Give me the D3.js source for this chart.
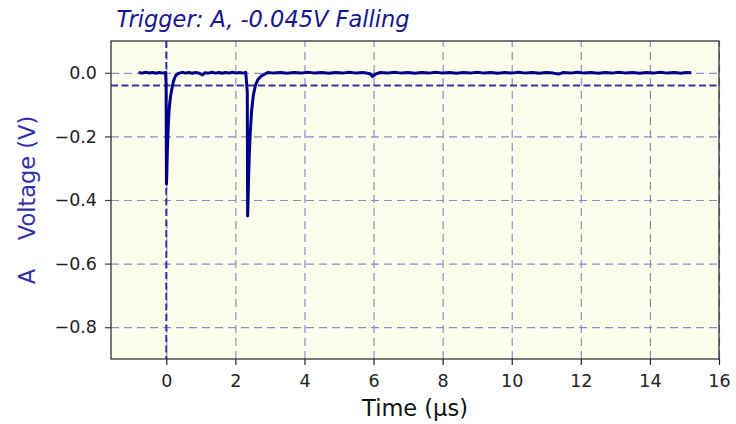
<!DOCTYPE html>
<html>
<head>
<meta charset="utf-8">
<script src="https://cdn.jsdelivr.net/npm/d3@7"></script>
<style>
  body { margin: 0; background: #fff; }
  text { font-family: 'DejaVu Sans', sans-serif; }
  .tick-label { font-size: 17.5px; fill: #222; }
</style>
</head>
<body>
<svg id="svg-scope" width="736" height="424"></svg>
<script>
//////////////////////////////////////////////////////////////////////////////////////////
// Data (time in us, voltage in V)
//////////////////////////////////////////////////////////////////////////////////////////
var pre_trigger = [
  [-0.80, 0.001], [-0.70, -0.001], [-0.60, 0.0015], [-0.50, -0.0005], [-0.40, 0.001],
  [-0.30, -0.0015], [-0.20, 0.001], [-0.10, -0.001], [-0.02, 0.001]
]
var first_pulse = [
  [-0.005, -0.04], [0.005, -0.35], [0.015, -0.32], [0.03, -0.25], [0.05, -0.19],
  [0.075, -0.13], [0.10, -0.095], [0.13, -0.07], [0.165, -0.05], [0.20, -0.03],
  [0.25, -0.014], [0.30, -0.005], [0.38, -0.001]
]
var between_pulses = [
  [0.46, 0.0015], [0.55, -0.001], [0.65, 0.001], [0.75, -0.0015], [0.85, 0.001],
  [0.95, -0.001], [1.05, -0.007], [1.12, 0.0005], [1.22, -0.001], [1.32, 0.0015],
  [1.42, -0.001], [1.52, 0.001], [1.62, -0.0015], [1.72, 0.001], [1.82, -0.001],
  [1.92, 0.0015], [2.02, -0.001], [2.12, 0.001], [2.22, -0.001], [2.30, 0.0015]
]
var second_pulse = [
  [2.345, -0.06], [2.355, -0.45], [2.365, -0.42], [2.38, -0.34], [2.40, -0.27],
  [2.43, -0.19], [2.47, -0.12], [2.52, -0.07], [2.58, -0.04], [2.65, -0.022],
  [2.75, -0.01], [2.85, -0.004], [2.95, 0.001]
]
var after_pulses = [
  [3.1, -0.001], [3.3, 0.001], [3.5, -0.0015], [3.7, 0.001], [3.9, -0.001], [4.1, 0.0015],
  [4.3, -0.001], [4.5, 0.001], [4.7, -0.0015], [4.9, 0.001], [5.1, -0.001], [5.3, 0.0015],
  [5.5, -0.001], [5.7, 0.001], [5.9, -0.003], [5.97, -0.012], [6.05, -0.004], [6.2, 0.001],
  [6.4, -0.001], [6.6, 0.0015], [6.8, -0.001], [7.0, 0.001], [7.2, -0.0015], [7.4, 0.001],
  [7.6, -0.001], [7.8, 0.0015], [8.0, -0.001], [8.2, 0.001], [8.4, -0.0015], [8.6, 0.001],
  [8.8, -0.001], [9.0, 0.0015], [9.2, -0.001], [9.4, 0.001], [9.6, -0.0015], [9.8, 0.001],
  [10.0, -0.001], [10.2, 0.0015], [10.4, -0.001], [10.6, 0.001], [10.8, -0.0015], [11.0, 0.001],
  [11.2, -0.001], [11.35, -0.004], [11.5, 0.001], [11.7, -0.001], [11.9, 0.0015], [12.1, -0.001],
  [12.3, 0.001], [12.5, -0.0015], [12.7, 0.001], [12.9, -0.001], [13.1, 0.0015], [13.3, -0.001],
  [13.5, 0.001], [13.7, -0.0015], [13.9, 0.001], [14.1, -0.001], [14.3, 0.0015], [14.5, -0.001],
  [14.7, 0.001], [14.9, -0.0015], [15.05, 0.001], [15.2, 0.0005]
]

var x_ticks = [0, 2, 4, 6, 8, 10, 12, 14, 16]
var y_ticks = [-0.8, -0.6, -0.4, -0.2, 0.0]
var x_domain = [-1.6, 16]
var y_domain = [-0.9, 0.1]
var trigger_time = 0
var trigger_level = -0.04

var title_text = 'Trigger: A, -0.045V Falling'
var x_label_text = 'Time (\u03bcs)'
var y_label_text = 'A    Voltage (V)'

//////////////////////////////////////////////////////////////////////////////////////////
// Layout
//////////////////////////////////////////////////////////////////////////////////////////
var plot = { 'left': 111, 'right': 719, 'top': 41, 'bottom': 359 }

var x = d3.scaleLinear().domain(x_domain).range([plot['left'], plot['right']])
var y = d3.scaleLinear().domain(y_domain).range([plot['bottom'], plot['top']])

var svg = d3.select('#svg-scope')

draw_background()
draw_grid()
draw_trigger_lines()
draw_trace()
draw_frame()
draw_axes()
draw_texts()

//////////////////////////////////////////////////////////////////////////////////////////
// Functions
//////////////////////////////////////////////////////////////////////////////////////////
function draw_background() {
  svg.append('rect')
    .attr('x', plot['left'])
    .attr('y', plot['top'])
    .attr('width', plot['right'] - plot['left'])
    .attr('height', plot['bottom'] - plot['top'])
    .attr('fill', '#fdfdec')
}

function draw_grid() {
  var g = svg.append('g').attr('id', 'g-grid')

  g.append('g')
    .attr('transform', 'translate(0,' + plot['bottom'] + ')')
    .call(d3.axisBottom(x).tickValues(x_ticks).tickSize(plot['top'] - plot['bottom']).tickFormat(''))

  g.append('g')
    .attr('transform', 'translate(' + plot['left'] + ',0)')
    .call(d3.axisLeft(y).tickValues(y_ticks).tickSize(plot['left'] - plot['right']).tickFormat(''))

  g.selectAll('.domain').remove()
  g.selectAll('line')
    .attr('stroke', '#8c8cd2')
    .attr('stroke-width', 1.2)
    .attr('stroke-dasharray', '8,5')
}

function draw_trigger_lines() {
  svg.append('line')
    .attr('x1', x(trigger_time))
    .attr('x2', x(trigger_time))
    .attr('y1', plot['top'])
    .attr('y2', plot['bottom'])
    .attr('stroke', '#3434a6')
    .attr('stroke-width', 2)
    .attr('stroke-dasharray', '7,3.5')

  svg.append('line')
    .attr('x1', plot['left'])
    .attr('x2', plot['right'])
    .attr('y1', y(trigger_level))
    .attr('y2', y(trigger_level))
    .attr('stroke', '#3434a6')
    .attr('stroke-width', 2)
    .attr('stroke-dasharray', '7,3.5')
}

function draw_trace() {
  var points = [].concat(pre_trigger, first_pulse, between_pulses, second_pulse, after_pulses)

  var line = d3.line()
    .x(function(d) { return x(d[0]) })
    .y(function(d) { return y(d[1]) })

  svg.append('path')
    .datum(points)
    .attr('d', line)
    .attr('fill', 'none')
    .attr('stroke', '#00008b')
    .attr('stroke-width', 3)
    .attr('stroke-linejoin', 'round')
}

function draw_frame() {
  svg.append('rect')
    .attr('x', plot['left'])
    .attr('y', plot['top'])
    .attr('width', plot['right'] - plot['left'])
    .attr('height', plot['bottom'] - plot['top'])
    .attr('fill', 'none')
    .attr('stroke', '#222')
    .attr('stroke-width', 1.2)
}

function draw_axes() {
  var g_x = svg.append('g')
    .attr('transform', 'translate(0,' + plot['bottom'] + ')')
    .call(d3.axisBottom(x).tickValues(x_ticks).tickSize(6).tickSizeOuter(0).tickPadding(10)
      .tickFormat(d3.format('d')))
  g_x.select('.domain').remove()
  g_x.selectAll('line').attr('stroke', '#222').attr('stroke-width', 1.2)
  g_x.selectAll('text').attr('class', 'tick-label').attr('font-family', null).attr('font-size', null)

  var g_y = svg.append('g')
    .attr('transform', 'translate(' + plot['left'] + ',0)')
    .call(d3.axisLeft(y).tickValues(y_ticks).tickSize(6).tickSizeOuter(0).tickPadding(8)
      .tickFormat(d3.format('.1f')))
  g_y.select('.domain').remove()
  g_y.selectAll('line').attr('stroke', '#3434a6').attr('stroke-width', 1.2)
  g_y.selectAll('text').attr('class', 'tick-label').attr('font-family', null).attr('font-size', null)
}

function draw_texts() {
  svg.append('text')
    .attr('x', 116.5)
    .attr('y', 27)
    .attr('font-size', '22.5px')
    .attr('font-style', 'italic')
    .attr('fill', '#16168e')
    .text(title_text)

  svg.append('text')
    .attr('x', (plot['left'] + plot['right']) / 2)
    .attr('y', 416)
    .attr('text-anchor', 'middle')
    .attr('font-size', '22.5px')
    .attr('fill', '#111')
    .text(x_label_text)

  svg.append('text')
    .attr('transform', 'translate(35,' + (plot['top'] + plot['bottom']) / 2 + ') rotate(-90)')
    .attr('text-anchor', 'middle')
    .attr('font-size', '22.5px')
    .attr('fill', '#3030a8')
    .style('white-space', 'pre')
    .text(y_label_text)
}
</script>
</body>
</html>
